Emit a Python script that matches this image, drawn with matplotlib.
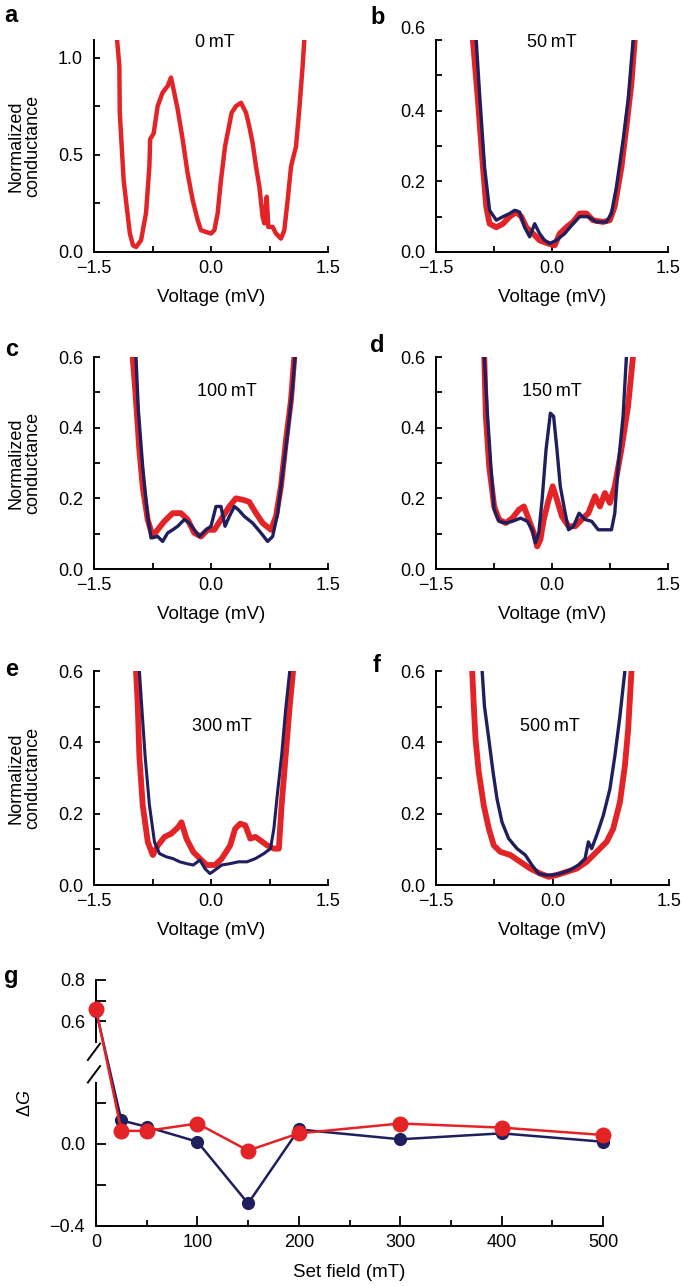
import numpy as np
import matplotlib
matplotlib.use('Agg')
from matplotlib import pyplot as plt
from matplotlib import transforms
from matplotlib.lines import Line2D

plt.rcParams['font.family'] = ['Liberation Sans', 'DejaVu Sans']
plt.rcParams['mathtext.fontset'] = 'custom'
plt.rcParams['mathtext.rm'] = 'Liberation Sans'
plt.rcParams['mathtext.it'] = 'Liberation Sans:italic'

RED = '#e42326'
NAVY = '#1e1f5c'

# ---- panel a, 0 mT (red only)
a_v_red = [-1.205, -1.175, -1.17, -1.12, -1.08, -1.04, -1.0, -0.96, -0.897, -0.833, -0.79, -0.78,
           -0.735, -0.684, -0.62, -0.556, -0.513, -0.48, -0.427, -0.363, -0.3, -0.235, -0.171,
           -0.128, -0.064, 0.0, 0.043, 0.085, 0.128, 0.18, 0.214, 0.265, 0.32, 0.385, 0.449, 0.49,
           0.534, 0.577, 0.62, 0.662, 0.684, 0.714, 0.735, 0.79, 0.833, 0.897, 0.94, 0.983, 1.026,
           1.09, 1.132, 1.175, 1.197]
a_g_red = [1.095, 0.957, 0.72, 0.37, 0.23, 0.095, 0.034, 0.026, 0.06, 0.2, 0.44, 0.58,
           0.61, 0.75, 0.82, 0.853, 0.897, 0.836, 0.733, 0.578, 0.405, 0.267, 0.164,
           0.112, 0.103, 0.095, 0.112, 0.198, 0.37, 0.543, 0.612, 0.716, 0.75, 0.767, 0.716, 0.647,
           0.56, 0.44, 0.336, 0.18, 0.147, 0.284, 0.129, 0.129, 0.095, 0.069, 0.112, 0.267, 0.44,
           0.543, 0.733, 0.957, 1.095]

# ---- panel b, 50 mT
b_v_red = [-1.023, -0.958, -0.893, -0.85, -0.807, -0.72, -0.634, -0.548, -0.462, -0.397, -0.332,
           -0.246, -0.16, -0.052, 0.035, 0.1, 0.186, 0.272, 0.358, 0.445, 0.53, 0.66, 0.747, 0.81,
           0.898, 0.962, 1.027, 1.07]
b_g_red = [0.6, 0.43, 0.24, 0.128, 0.08, 0.07, 0.08, 0.1, 0.113, 0.1, 0.07,
           0.052, 0.033, 0.024, 0.019, 0.052, 0.07, 0.085, 0.109, 0.109, 0.09, 0.085, 0.09, 0.128,
           0.24, 0.354, 0.477, 0.6]
b_v_blue = [-0.98, -0.937, -0.872, -0.807, -0.72, -0.634, -0.548, -0.483, -0.419, -0.354, -0.289,
            -0.224, -0.16, -0.095, -0.03, 0.056, 0.164, 0.272, 0.358, 0.466, 0.574, 0.704, 0.768,
            0.833, 0.919, 0.984, 1.049]
b_g_blue = [0.6, 0.45, 0.24, 0.118, 0.09, 0.1, 0.109, 0.118, 0.113, 0.07, 0.043,
            0.08, 0.052, 0.033, 0.024, 0.033, 0.052, 0.08, 0.1, 0.1, 0.085, 0.085, 0.109,
            0.184, 0.316, 0.43, 0.6]

# ---- panel c, 100 mT
c_v_red = [-1.004, -0.962, -0.919, -0.876, -0.812, -0.748, -0.684, -0.598, -0.491, -0.385, -0.3,
           -0.214, -0.128, -0.043, 0.043, 0.128, 0.235, 0.32, 0.406, 0.49, 0.577, 0.662, 0.769,
           0.833, 0.897, 0.962, 1.026, 1.068]
c_g_red = [0.6, 0.479, 0.338, 0.234, 0.14, 0.092, 0.111, 0.135, 0.158, 0.158, 0.14,
           0.102, 0.092, 0.111, 0.111, 0.14, 0.177, 0.2, 0.196, 0.19, 0.158, 0.13, 0.111,
           0.149, 0.234, 0.366, 0.479, 0.6]
c_v_blue = [-0.962, -0.932, -0.876, -0.812, -0.769, -0.684, -0.62, -0.556, -0.491, -0.427, -0.342,
            -0.278, -0.214, -0.15, -0.064, 0.0, 0.064, 0.128, 0.18, 0.235, 0.3, 0.35, 0.427,
            0.534, 0.641, 0.726, 0.79, 0.855, 0.919, 0.983, 1.047, 1.077]
c_g_blue = [0.6, 0.451, 0.29, 0.149, 0.088, 0.092, 0.078, 0.102, 0.111, 0.121, 0.14,
            0.13, 0.111, 0.092, 0.111, 0.121, 0.177, 0.177, 0.121, 0.149, 0.177, 0.168, 0.149,
            0.13, 0.102, 0.078, 0.092, 0.158, 0.272, 0.385, 0.517, 0.6]

# ---- panel d, 150 mT
d_v_red = [-0.876, -0.855, -0.812, -0.748, -0.684, -0.598, -0.513, -0.427, -0.363, -0.3, -0.235,
           -0.192, -0.15, -0.107, -0.043, 0.009, 0.064, 0.128, 0.214, 0.3, 0.385, 0.47, 0.556,
           0.62, 0.684, 0.748, 0.812, 0.897, 0.983, 1.047]
d_g_red = [0.6, 0.432, 0.29, 0.177, 0.14, 0.13, 0.144, 0.168, 0.177, 0.14, 0.102,
           0.064, 0.083, 0.14, 0.196, 0.234, 0.196, 0.149, 0.121, 0.121, 0.14, 0.158, 0.206,
           0.177, 0.215, 0.187, 0.234, 0.338, 0.46, 0.6]
d_v_blue = [-0.876, -0.833, -0.79, -0.748, -0.684, -0.598, -0.513, -0.406, -0.32, -0.256, -0.214,
            -0.171, -0.128, -0.077, -0.021, 0.021, 0.064, 0.107, 0.162, 0.214, 0.278, 0.35, 0.427,
            0.513, 0.598, 0.684, 0.769, 0.812, 0.855, 0.919, 0.962]
d_g_blue = [0.6, 0.432, 0.29, 0.168, 0.135, 0.13, 0.135, 0.144, 0.135, 0.111, 0.074,
            0.102, 0.196, 0.338, 0.441, 0.432, 0.338, 0.234, 0.168, 0.111, 0.121, 0.158, 0.14,
            0.135, 0.111, 0.111, 0.111, 0.158, 0.29, 0.432, 0.6]

# ---- panel e, 300 mT
e_v_red = [-0.961, -0.94, -0.918, -0.875, -0.81, -0.746, -0.681, -0.595, -0.509, -0.422, -0.379,
           -0.315, -0.228, -0.142, -0.056, 0.052, 0.138, 0.246, 0.31, 0.375, 0.44, 0.504, 0.569,
           0.634, 0.72, 0.806, 0.87, 0.905, 0.957, 1.009, 1.052]
e_g_red = [0.6, 0.51, 0.36, 0.223, 0.12, 0.084, 0.111, 0.135, 0.144, 0.162, 0.176,
           0.13, 0.093, 0.074, 0.056, 0.056, 0.074, 0.111, 0.158, 0.172, 0.167, 0.13, 0.135,
           0.125, 0.111, 0.102, 0.102, 0.223, 0.362, 0.501, 0.6]
e_v_blue = [-0.918, -0.888, -0.845, -0.789, -0.724, -0.66, -0.573, -0.487, -0.401, -0.315, -0.228,
            -0.142, -0.078, -0.013, 0.052, 0.138, 0.246, 0.353, 0.461, 0.569, 0.677, 0.763,
            0.806, 0.849, 0.905, 0.957, 1.009]
e_g_blue = [0.6, 0.501, 0.362, 0.223, 0.12, 0.088, 0.079, 0.074, 0.065, 0.06, 0.056,
            0.07, 0.046, 0.032, 0.042, 0.056, 0.06, 0.065, 0.065, 0.074, 0.088, 0.102,
            0.158, 0.251, 0.362, 0.492, 0.6]

# ---- panel f, 500 mT
f_v_red = [-1.034, -1.013, -0.991, -0.949, -0.885, -0.82, -0.756, -0.671, -0.543, -0.415, -0.286,
           -0.158, -0.051, 0.056, 0.184, 0.312, 0.44, 0.568, 0.697, 0.782, 0.868, 0.932, 0.974,
           1.017]
f_g_red = [0.6, 0.501, 0.409, 0.316, 0.223, 0.158, 0.111, 0.093, 0.084, 0.065, 0.046,
           0.032, 0.023, 0.028, 0.037, 0.046, 0.065, 0.093, 0.121, 0.158, 0.232, 0.334, 0.436,
           0.6]
f_v_blue = [-0.906, -0.876, -0.82, -0.765, -0.714, -0.65, -0.564, -0.457, -0.35, -0.265, -0.179,
            -0.094, -0.009, 0.098, 0.226, 0.333, 0.419, 0.462, 0.504, 0.568, 0.654, 0.739, 0.803,
            0.868, 0.91, 0.932]
f_g_blue = [0.6, 0.501, 0.409, 0.316, 0.241, 0.176, 0.13, 0.102, 0.084, 0.056, 0.032,
            0.028, 0.028, 0.032, 0.042, 0.056, 0.074, 0.121, 0.102, 0.139, 0.195, 0.269, 0.362,
            0.473, 0.557, 0.6]

# ---- panel g
field = [0, 25, 50, 100, 150, 200, 300, 400, 500]
dg_blue = [0.65, 0.115, 0.084, 0.011, -0.29, 0.071, 0.023, 0.052, 0.011]
dg_red = [0.66, 0.064, 0.064, 0.10, -0.032, 0.052, 0.10, 0.08, 0.044]

W, H = 685.0, 1286.0
fig = plt.figure(figsize=(6.85, 12.86), dpi=100)


def px_axes(l, t, r, b):
    return fig.add_axes([l / W, 1 - b / H, (r - l) / W, (b - t) / H])


def style_ax(ax, ymax, yticks, ylabels, ylabel=True):
    for s in ['top', 'right']:
        ax.spines[s].set_visible(False)
    for s in ['left', 'bottom']:
        ax.spines[s].set_linewidth(1.4)
    ax.set_xlim(-1.5, 1.5)
    ax.set_ylim(0, ymax)
    ax.set_xticks([-1.5, -0.75, 0, 0.75, 1.5])
    ax.set_xticklabels(['\u22121.5', '', '0.0', '', '1.5'])
    ax.set_yticks(yticks)
    ax.set_yticklabels(ylabels)
    ax.tick_params(direction='in', length=4, width=1.3, labelsize=13, pad=6)
    ax.tick_params(axis='y', pad=8)
    ax.set_xlabel('Voltage (mV)', fontsize=13.5)
    ax.xaxis.set_label_coords(0.5, -0.175)
    if ylabel:
        ax.set_ylabel('Normalized\nconductance', fontsize=13, linespacing=0.95)
        ax.yaxis.set_label_coords(-0.225, 0.5)


small_ticks = [0, 0.1, 0.2, 0.3, 0.4, 0.5, 0.6]
small_labels = ['0.0', '', '0.2', '', '0.4', '', '0.6']

# letter, axes box (px), ymax, field text, text x (mV), text y (axes frac), curves, ylabel, letter pos
panels = [
    ('a', (94, 40, 328, 252), 1.09, '0\u2009mT', 0.05, 0.986,
     [(a_v_red, a_g_red, RED, 3.2)], True, (4, 15)),
    ('b', (436, 40, 668, 252), 0.6, '50\u2009mT', 0.0, 0.986,
     [(b_v_red, b_g_red, RED, 4.2), (b_v_blue, b_g_blue, NAVY, 2.4)], False, (370, 17)),
    ('c', (94, 357, 328, 569), 0.6, '100\u2009mT', 0.2, 0.835,
     [(c_v_red, c_g_red, RED, 4.2), (c_v_blue, c_g_blue, NAVY, 2.4)], True, (5, 350)),
    ('d', (436, 357, 668, 569), 0.6, '150\u2009mT', 0.0, 0.835,
     [(d_v_red, d_g_red, RED, 4.2), (d_v_blue, d_g_blue, NAVY, 2.4)], False, (370, 346)),
    ('e', (94, 671, 328, 885), 0.6, '300\u2009mT', 0.14, 0.74,
     [(e_v_red, e_g_red, RED, 4.2), (e_v_blue, e_g_blue, NAVY, 2.2)], True, (5, 670)),
    ('f', (436, 671, 669, 885), 0.6, '500\u2009mT', -0.03, 0.74,
     [(f_v_red, f_g_red, RED, 4.2), (f_v_blue, f_g_blue, NAVY, 2.4)], False, (373, 666)),
]

for letter, box, ymax, field_txt, tx, ty, curves, ylab, lpos in panels:
    ax = px_axes(*box)
    for v, g, col, lw in curves:
        ax.plot(v, g, color=col, lw=lw, solid_joinstyle='round', solid_capstyle='round')
    if letter == 'a':
        style_ax(ax, ymax, [0, 0.25, 0.5, 0.75, 1.0], ['0.0', '', '0.5', '', '1.0'], ylab)
    else:
        style_ax(ax, ymax, small_ticks, small_labels, ylab)
    if letter == 'b':
        # top label sits a little above its tick in the original
        top = ax.get_yticklabels()[-1]
        top.set_transform(top.get_transform() +
                          transforms.ScaledTranslation(0, 12 / 100, fig.dpi_scale_trans))
    ax.text(tx, ty, field_txt,
            transform=transforms.blended_transform_factory(ax.transData, ax.transAxes),
            ha='center', va='center', fontsize=13)
    fig.text(lpos[0] / W, 1 - lpos[1] / H, letter, fontsize=17,
             fontweight='bold', ha='left', va='center')

# ---- panel g
axg = px_axes(96, 980, 603, 1226)
axg.plot(field, dg_blue, color=NAVY, lw=1.8, marker='o', ms=8.5, clip_on=False, zorder=3)
axg.plot(field, dg_red, color=RED, lw=1.8, marker='o', ms=10.5, clip_on=False, zorder=4)
axg.set_xlim(0, 500)
axg.set_ylim(-0.4, 0.8)
for s in ['top', 'right', 'left']:
    axg.spines[s].set_visible(False)
axg.spines['bottom'].set_linewidth(1.4)
ytr = axg.get_yaxis_transform()
for y0, y1 in [(0.5, 0.8), (-0.4, 0.3)]:
    axg.add_line(Line2D([0, 0], [y0, y1], transform=ytr, color='black', lw=1.4, clip_on=False))
for y0, y1 in [(0.41, 0.49), (0.30, 0.38)]:
    axg.add_line(Line2D([-0.016, 0.008], [y0, y1], transform=ytr, color='black', lw=1.4,
                        clip_on=False))
axg.set_xticks([0, 100, 200, 300, 400, 500])
axg.set_xticks([50, 150, 250, 350, 450], minor=True)
axg.set_yticks([-0.4, -0.2, 0.0, 0.2, 0.6, 0.7, 0.8])
axg.set_yticklabels(['\u22120.4', '', '0.0', '', '0.6', '', '0.8'])
axg.tick_params(direction='in', length=7, width=1.3, labelsize=13, pad=6)
axg.tick_params(axis='x', which='minor', direction='in', length=4.5, width=1.3)
axg.tick_params(axis='y', pad=8)
axg.set_xlabel('Set field (mT)', fontsize=13.5)
axg.xaxis.set_label_coords(0.5, -0.155)
fig.text(26 / W, 1 - 1103 / H, r'$\Delta\mathit{G}$', rotation=90, fontsize=13,
         ha='center', va='center')
fig.text(4 / W, 1 - 977 / H, 'g', fontsize=17, fontweight='bold', ha='left', va='center')

fig.savefig('out.png', dpi=100)
